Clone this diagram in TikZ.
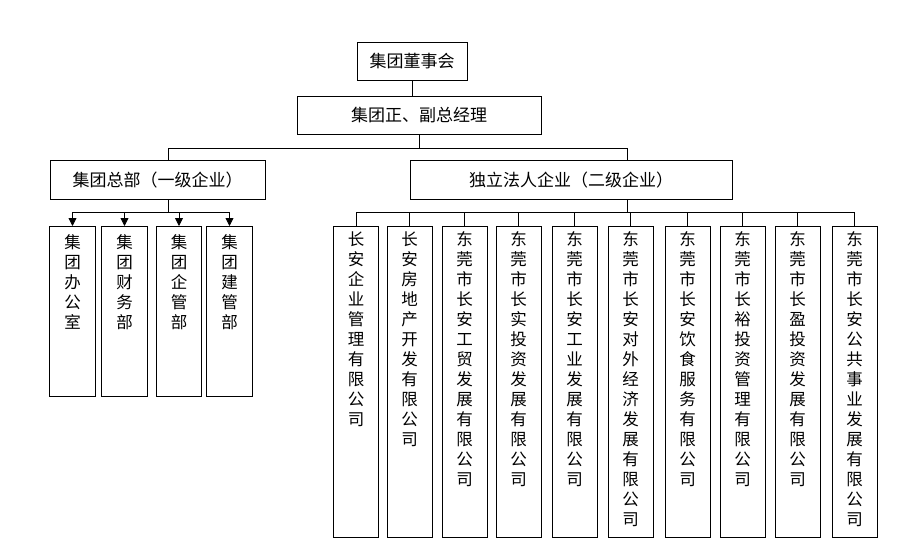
\documentclass[tikz,border=0pt]{standalone}
\usepackage{fontspec}
\setmainfont{Noto Sans CJK SC}
\usetikzlibrary{arrows.meta,positioning}

\begin{document}
\begin{tikzpicture}[x=1pt,y=-1pt,>={Triangle[length=8pt,width=8pt]},line width=0.8pt,font=\fontsize{17}{20}\selectfont]

    % Define node styles
    \tikzset{hbox/.style={draw, rectangle, inner sep=0pt, text centered},
             vbox/.style={draw, rectangle, inner sep=0pt, minimum width=45pt, minimum height=311pt, anchor=north},
             vtext/.style={anchor=north, align=center, font=\fontsize{16.5}{20}\selectfont}}
    \useasboundingbox (0,0) rectangle (905,543);

    % Draw nodes
    \node [hbox, minimum width=110pt, minimum height=38pt] (board) at (412,61) {集团董事会};
    \node [hbox, minimum width=244pt, minimum height=38pt] (mgr) at (419,115) {集团正、副总经理};
    \node [hbox, minimum width=215pt, minimum height=39pt] (hq) at (157.5,180) {集团总部（一级企业）};
    \node [hbox, minimum width=322pt, minimum height=39pt] (ind) at (571,180) {独立法人企业（二级企业）};

    % Headquarters departments
    \foreach \x/\i/\t in {72.5/1/集\\团\\办\\公\\室, 124.5/2/集\\团\\财\\务\\部,
                          179/3/集\\团\\企\\管\\部, 229.5/4/集\\团\\建\\管\\部} {
        \node [vbox, minimum width=45.5pt, minimum height=170pt] (d\i) at (\x,226) {};
        \node [vtext] at (\x,231) {\t};
    }

    % Second level companies
    \foreach \x/\i/\t in {356/1/长\\安\\企\\业\\管\\理\\有\\限\\公\\司,
                          409.5/2/长\\安\\房\\地\\产\\开\\发\\有\\限\\公\\司,
                          464.5/3/东\\莞\\市\\长\\安\\工\\贸\\发\\展\\有\\限\\公\\司,
                          518.5/4/东\\莞\\市\\长\\实\\投\\资\\发\\展\\有\\限\\公\\司,
                          574.5/5/东\\莞\\市\\长\\安\\工\\业\\发\\展\\有\\限\\公\\司,
                          630.5/6/东\\莞\\市\\长\\安\\对\\外\\经\\济\\发\\展\\有\\限\\公\\司,
                          687.5/7/东\\莞\\市\\长\\安\\饮\\食\\服\\务\\有\\限\\公\\司,
                          742.5/8/东\\莞\\市\\长\\裕\\投\\资\\管\\理\\有\\限\\公\\司,
                          797.5/9/东\\莞\\市\\长\\盈\\投\\资\\发\\展\\有\\限\\公\\司,
                          854.5/10/东\\莞\\市\\长\\安\\公\\共\\事\\业\\发\\展\\有\\限\\公\\司} {
        \node [vbox] (c\i) at (\x,226) {};
        \node [vtext] at (\x,228) {\t};
    }

    % Draw connectors
    \draw (board.south) -- (board.south |- mgr.north);
    \draw (mgr.south) -- ++(0,14) -| (hq.north -| 168,0);
    \draw (mgr.south) ++(0,14) -| (ind.north -| 627,0);
    \draw (hq.south -| 168,0) -- ++(0,13);
    \foreach \i in {1,...,4} {
        \draw [->] (168,212) -| (d\i.north);
    }
    \draw (ind.south -| 627,0) -- ++(0,13);
    \foreach \i in {1,...,10} {
        \draw (627,212) -| (c\i.north);
    }

\end{tikzpicture}
\end{document}
